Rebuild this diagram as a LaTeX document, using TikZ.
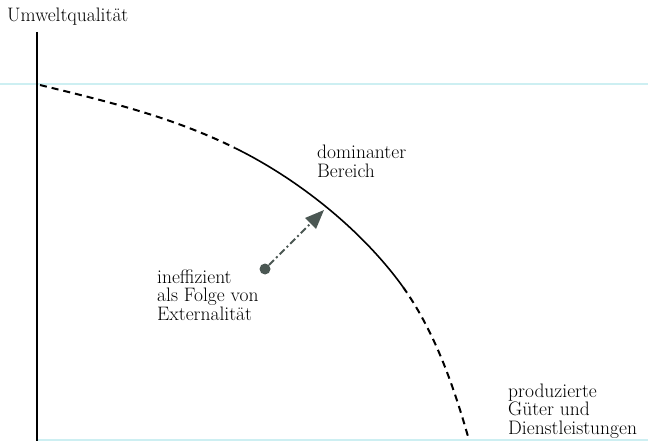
\documentclass[tikz,border=0pt]{standalone}
\usepackage{fontspec}
\usetikzlibrary{arrows.meta}
\definecolor{scan}{HTML}{CDEFF2}
\definecolor{dotgray}{HTML}{4B5753}
\begin{document}
\begin{tikzpicture}[x=1pt,y=-1pt,
  lbl/.style={anchor=base west,inner sep=0pt,align=left,font=\fontsize{19.5}{18.5}\selectfont},
  axisline/.style={line width=1.8pt,black},
  curvedash/.style={line width=2pt,dash pattern=on 7pt off 5pt},
  curvesolid/.style={line width=1.6pt},
  moveline/.style={line width=1.8pt,dotgray,dash pattern=on 7pt off 3pt on 2pt off 3pt},
  scanline/.style={line width=1.5pt,scan}]
\useasboundingbox (0,0) rectangle (648,441);
% faint scan lines
\coordinate (sl) at (0,84);
\coordinate (sr) at (648,84);
\draw[scanline] (sl) -- (sr);
\coordinate (bl) at (37,440);
\coordinate (br) at (648,440);
\draw[scanline] (bl) -- (br);
% axis
\coordinate (ytop) at (37,32);
\coordinate (ybot) at (37,441);
\draw[axisline] (ytop) -- (ybot);
% curve
\coordinate (c0) at (40,85);
\coordinate (c1) at (235,148);
\coordinate (c2) at (403,287);
\coordinate (c3) at (469,440);
\draw[curvedash] (c0) .. controls (105,101) and (170,116) .. (c1);
\draw[curvesolid] (c1) .. controls (298,179) and (362,230) .. (c2);
\draw[curvedash] (c2) .. controls (435,332) and (454,387) .. (c3);
% point and arrow
\node[circle,fill=dotgray,minimum size=11pt,inner sep=0pt] (pt) at (265,269) {};
\coordinate (tip) at (324,210);
\draw[moveline,-{Triangle[length=19pt,width=15pt]}] (pt) -- (tip);
% labels (base = baseline of the last line)
\node[lbl] (yl) at (7,22) {Umweltqualität};
\node[lbl] (dom) at (317,177) {dominanter\\Bereich};
\node[lbl] (ineff) at (157,320) {ineffizient\\als Folge von\\Externalität};
\node[lbl] (xl) at (508,434) {produzierte\\Güter und\\Dienstleistungen};
\end{tikzpicture}
\end{document}
